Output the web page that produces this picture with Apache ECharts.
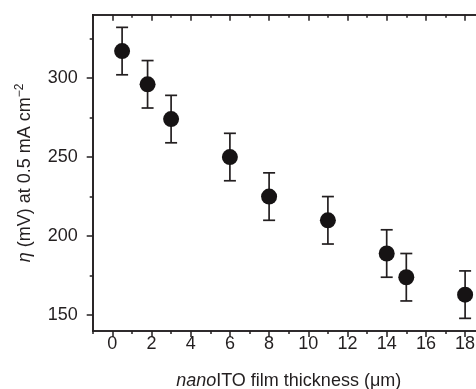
<!DOCTYPE html>
<html>
<head>
<meta charset="utf-8">
<script src="https://cdn.jsdelivr.net/npm/echarts@6/dist/echarts.min.js"></script>
<style>
  html, body { margin: 0; padding: 0; background: #fff; }
  #chart { width: 476px; height: 389px; }
</style>
</head>
<body>
<div id="chart"></div>
<script>
// film thickness (um) and overpotential (mV)
const thickness = [0.5, 1.8, 3, 6, 8, 11, 14, 15, 18]
const eta = [317, 296, 274, 250, 225, 210, 189, 174, 163]
const errLow = [302, 281, 259, 235, 210, 195, 174, 159, 148]
const errHigh = [332, 311, 289, 265, 240, 225, 204, 189, 178]

const xMajor = [0, 2, 4, 6, 8, 10, 12, 14, 16, 18]
const xMinor = [-1, 1, 3, 5, 7, 9, 11, 13, 15, 17]
const yMajor = [150, 200, 250, 300]
const yMinor = [175, 225, 275, 325]

const ink = '#231f20'
const font = 'Liberation Sans, Arial, sans-serif'

const chart = echarts.init(document.getElementById('chart'))

const baseX = {
  type: 'value',
  min: -1,
  max: 19,
  splitLine: { show: false },
  axisLine: { show: true, onZero: false, lineStyle: { color: ink, width: 1.6 } },
}
const baseY = {
  type: 'value',
  min: 140,
  max: 340,
  splitLine: { show: false },
  axisLine: { show: true, onZero: false, lineStyle: { color: ink, width: 1.6 } },
}

chart.setOption({
  animation: false,
  grid: { left: 92.7, top: 14.7, width: 392, height: 316.3, outerBoundsMode: 'none', containLabel: false },
  xAxis: [
    Object.assign({}, baseX, {
      position: 'bottom',
      axisTick: { show: true, length: 6, customValues: xMajor, lineStyle: { color: ink, width: 1.5 } },
      axisLabel: { customValues: xMajor, color: ink, fontSize: 18, fontFamily: font, margin: 4 },
      name: '{i|nano}ITO film thickness (μm)',
      nameLocation: 'middle',
      nameGap: 41,
      nameTextStyle: {
        color: ink, fontSize: 18, fontFamily: font,
        rich: { i: { fontStyle: 'italic', color: ink, fontSize: 18, fontFamily: font } },
      },
    }),
    Object.assign({}, baseX, {
      position: 'bottom',
      axisTick: { show: true, length: 3, customValues: xMinor, lineStyle: { color: ink, width: 1.5 } },
      axisLabel: { show: false },
    }),
    Object.assign({}, baseX, {
      position: 'top',
      axisTick: { show: true, inside: true, length: 6, customValues: xMajor, lineStyle: { color: ink, width: 1.5 } },
      axisLabel: { show: false },
    }),
    Object.assign({}, baseX, {
      position: 'top',
      axisTick: { show: true, inside: true, length: 3, customValues: xMinor, lineStyle: { color: ink, width: 1.5 } },
      axisLabel: { show: false },
    }),
  ],
  yAxis: [
    Object.assign({}, baseY, {
      position: 'left',
      axisTick: { show: true, length: 6, customValues: yMajor, lineStyle: { color: ink, width: 1.5 } },
      axisLabel: { customValues: yMajor, color: ink, fontSize: 18, fontFamily: font, margin: 15 },
      name: '{i|η} (mV) at 0.5 mA cm{s|−2}',
      nameLocation: 'middle',
      nameGap: 57,
      nameTextStyle: {
        color: ink, fontSize: 18, fontFamily: font,
        rich: {
          i: { fontStyle: 'italic', color: ink, fontSize: 18, fontFamily: font },
          s: { color: ink, fontSize: 12, fontFamily: font, verticalAlign: 'top', padding: [0, 0, 10, 0] },
        },
      },
    }),
    Object.assign({}, baseY, {
      position: 'left',
      axisTick: { show: true, length: 3, customValues: yMinor, lineStyle: { color: ink, width: 1.5 } },
      axisLabel: { show: false },
    }),
  ],
  series: [
    {
      type: 'custom',
      xAxisIndex: 0,
      yAxisIndex: 0,
      data: thickness.map((x, i) => [x, errLow[i], errHigh[i]]),
      renderItem: function (params, api) {
        const lo = api.coord([api.value(0), api.value(1)])
        const hi = api.coord([api.value(0), api.value(2)])
        const w = 6
        const style = { stroke: ink, lineWidth: 1.7 }
        return {
          type: 'group',
          children: [
            { type: 'line', shape: { x1: lo[0], y1: lo[1], x2: hi[0], y2: hi[1] }, style },
            { type: 'line', shape: { x1: hi[0] - w, y1: hi[1], x2: hi[0] + w, y2: hi[1] }, style },
            { type: 'line', shape: { x1: lo[0] - w, y1: lo[1], x2: lo[0] + w, y2: lo[1] }, style },
          ],
        }
      },
      z: 2,
    },
    {
      type: 'scatter',
      xAxisIndex: 0,
      yAxisIndex: 0,
      symbol: 'circle',
      symbolSize: 16,
      itemStyle: { color: '#161314', opacity: 1 },
      data: thickness.map((x, i) => [x, eta[i]]),
      z: 3,
    },
  ],
})
</script>
</body>
</html>
